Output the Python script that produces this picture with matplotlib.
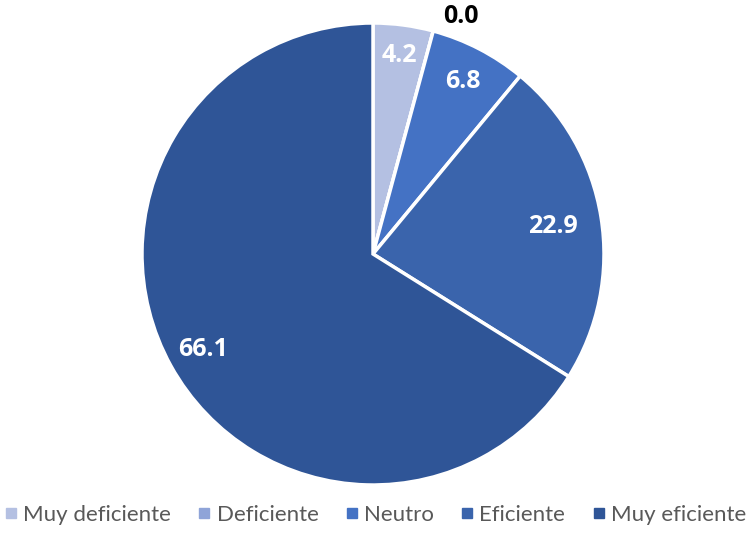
import numpy as np
import matplotlib
matplotlib.use("Agg")
import matplotlib.pyplot as plt
from matplotlib.lines import Line2D

categories = ["Muy deficiente", "Deficiente", "Neutro", "Eficiente", "Muy eficiente"]
values = [4.2, 0.0, 6.8, 22.9, 66.1]
colors = ["#B4C0E2", "#8FA4D8", "#4472C4", "#3A64AC", "#2F5597"]

plt.rcParams['font.family'] = ['Lato', 'DejaVu Sans']

fig = plt.figure(figsize=(7.48, 5.34), dpi=100)
ax = fig.add_axes([142/748, 49/534, 462/748, 462/534])

wedges, _ = ax.pie(values, colors=colors, startangle=90, counterclock=False,
                   radius=1, wedgeprops=dict(edgecolor="white", linewidth=2.5))
ax.set_xlim(-1, 1)
ax.set_ylim(-1, 1)
ax.set_aspect("equal")

label_r = [0.87, 1.10, 0.845, 0.79, 0.84]
for w, v, r in zip(wedges, values, label_r):
    ang = np.deg2rad((w.theta1 + w.theta2) / 2)
    if v == 0:
        ang = np.deg2rad(69.7)
        col = "black"
    else:
        col = "white"
    ax.text(r * np.cos(ang), r * np.sin(ang) - 0.005, f"{v:.1f}", ha="center", va="center",
            color=col, fontsize=18, fontweight="bold", family=["Open Sans", "DejaVu Sans"],
            clip_on=False)

handles = [Line2D([0], [0], marker="s", linestyle="", markersize=7,
                  markerfacecolor=c, markeredgecolor=c) for c in colors]
fig.legend(handles, categories, loc="lower left", bbox_to_anchor=(-0.024, -0.02),
           ncol=5, frameon=False, fontsize=16, labelcolor="#595959",
           handletextpad=0.15, columnspacing=1.1, handlelength=0.8)

fig.savefig("out.png", dpi=100)
